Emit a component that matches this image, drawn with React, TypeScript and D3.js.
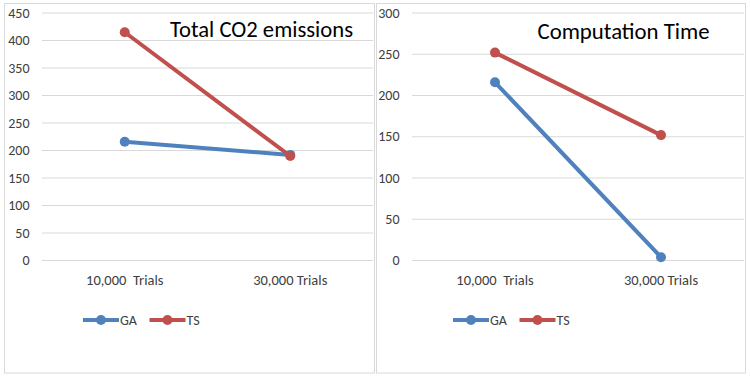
import React from "react";
import * as d3 from "d3";

const categories = ["10,000  Trials", "30,000 Trials"];
const seriesNames = ["GA", "TS"];
const co2GA = [216, 192];
const co2TS = [415, 190];
const timeGA = [216, 4];
const timeTS = [252, 152];
const co2Ticks = [0, 50, 100, 150, 200, 250, 300, 350, 400, 450];
const timeTicks = [0, 50, 100, 150, 200, 250, 300];

const COLORS = ["#4F81BD", "#C0504D"];
const FONT = "Carlito, Lato, 'Open Sans', sans-serif";

type PanelProps = {
  left: number;
  right: number;
  boxLeft: number;
  boxRight: number;
  title: string;
  titleX: number;
  titleY: number;
  titleW: number;
  ticks: number[];
  series: number[][];
  labelX: number;
};

function Panel(p: PanelProps) {
  const yMax = p.ticks[p.ticks.length - 1];
  const y = d3.scaleLinear().domain([0, yMax]).range([260.5, 13]);
  const x = d3.scaleBand<string>().domain(categories).range([p.left, p.right]).padding(0);
  const cx = (c: string) => (x(c) as number) + x.bandwidth() / 2;
  const line = d3
    .line<number>()
    .x((_, i) => cx(categories[i]))
    .y((d) => y(d));
  const legendX0 = p.left + 41;
  return (
    <g>
      <rect
        x={p.boxLeft}
        y={3.5}
        width={p.boxRight - p.boxLeft}
        height={369.5}
        fill="#fff"
        stroke="#D9D9D9"
        strokeWidth={1}
      />
      {p.ticks.map((t) => (
        <g key={t}>
          <line x1={p.left} x2={p.right} y1={y(t)} y2={y(t)} stroke="#D9D9D9" strokeWidth={1} />
          <text
            x={p.labelX}
            y={y(t)}
            textAnchor="end"
            dominantBaseline="central"
            fontFamily={FONT}
            fontSize={14}
            fill="#404040"
          >
            {t}
          </text>
        </g>
      ))}
      {categories.map((c) => (
        <text
          key={c}
          x={cx(c)}
          y={285}
          textAnchor="middle"
          fontFamily={FONT}
          fontSize={14.5}
          fill="#404040"
          style={{ whiteSpace: "pre" }}
        >
          {c}
        </text>
      ))}
      {p.series.map((s, si) => (
        <g key={si}>
          <path d={line(s) || ""} fill="none" stroke={COLORS[si]} strokeWidth={4} />
          {s.map((v, i) => (
            <circle key={i} cx={cx(categories[i])} cy={y(v)} r={5} fill={COLORS[si]} />
          ))}
        </g>
      ))}
      <text
        x={p.titleX}
        y={p.titleY}
        fontFamily={FONT}
        fontSize={22.5}
        fill="#000"
        textLength={p.titleW}
        lengthAdjust="spacingAndGlyphs"
      >
        {p.title}
      </text>
      {seriesNames.map((n, si) => {
        const lx = legendX0 + si * 66.5;
        return (
          <g key={n}>
            <line x1={lx} x2={lx + 36} y1={320} y2={320} stroke={COLORS[si]} strokeWidth={4} />
            <circle cx={lx + 18} cy={320} r={5} fill={COLORS[si]} />
            <text
              x={lx + 37}
              y={320}
              dominantBaseline="central"
              fontFamily={FONT}
              fontSize={14}
              fill="#404040"
            >
              {n}
            </text>
          </g>
        );
      })}
    </g>
  );
}

export default function App() {
  return (
    <svg
      width={750}
      height={380}
      style={{ position: "absolute", left: 0, top: 0, background: "#fff" }}
    >
      <rect x={0} y={0} width={750} height={380} fill="#fff" />
      <Panel
        left={42}
        right={373}
        boxLeft={4.5}
        boxRight={374.5}
        title="Total CO2 emissions"
        titleX={170}
        titleY={36.5}
        titleW={183}
        ticks={co2Ticks}
        series={[co2GA, co2TS]}
        labelX={29.5}
      />
      <Panel
        left={412}
        right={744}
        boxLeft={376.5}
        boxRight={745.5}
        title="Computation Time"
        titleX={537.5}
        titleY={39}
        titleW={172}
        ticks={timeTicks}
        series={[timeGA, timeTS]}
        labelX={399.5}
      />
    </svg>
  );
}
